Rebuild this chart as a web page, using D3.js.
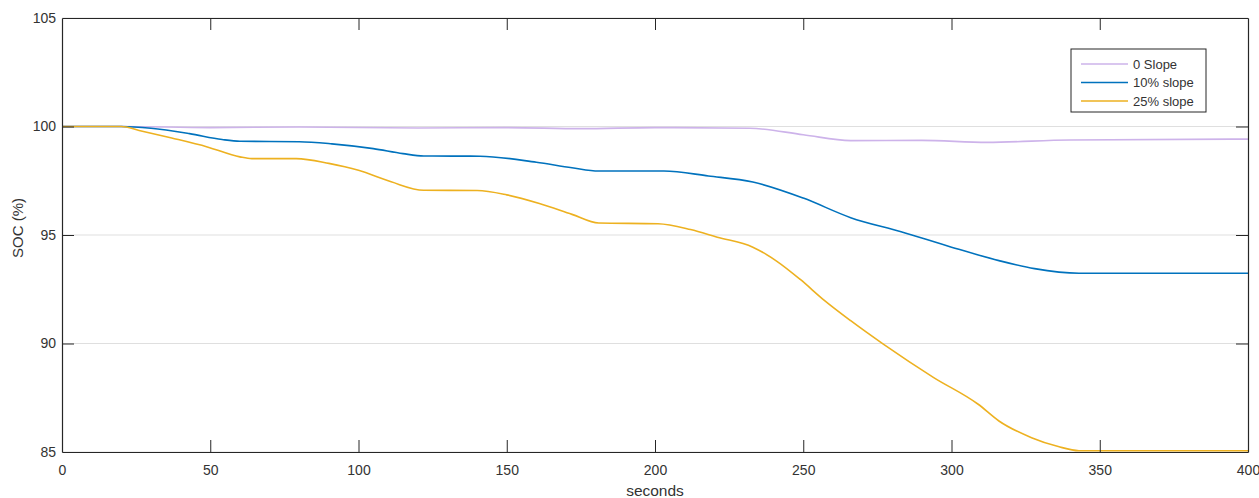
<!DOCTYPE html>
<html>
<head>
<meta charset="utf-8">
<script src="https://cdn.jsdelivr.net/npm/d3@7"></script>
<style>
  html, body { margin: 0; padding: 0; background: #fff; }
  text { font-family: "Liberation Sans", Arial, Helvetica, sans-serif; }
</style>
</head>
<body>
<svg id="chart" width="1259" height="498"></svg>
<script>
// ---- Data ----
const seriesNames = ["0 Slope", "10% slope", "25% slope"];
const seriesColors = ["#cdb3ea", "#0072bd", "#edb120"];

const slope0 = [
  [0, 100], [20, 100], [50, 99.95], [80, 99.98], [120, 99.93], [150, 99.95],
  [175, 99.9], [200, 99.95], [232, 99.92], [250, 99.62], [266, 99.35],
  [290, 99.36], [312, 99.27], [340, 99.38], [400, 99.42]
];
const slope10 = [
  [0, 100], [20, 100], [30, 99.92], [43, 99.67], [54, 99.4], [60, 99.32],
  [80, 99.3], [91, 99.2], [105, 98.98], [115, 98.75], [122, 98.64],
  [141, 98.63], [160, 98.35], [172, 98.1], [181, 97.95], [203, 97.95],
  [218, 97.72], [233, 97.44], [250, 96.7], [266, 95.8], [283, 95.15],
  [300, 94.44], [316, 93.82], [328, 93.45], [343, 93.24], [400, 93.24]
];
const slope25 = [
  [0, 100], [20, 100], [26, 99.82], [37, 99.47], [49, 99.06], [60, 98.6],
  [64, 98.52], [79, 98.52], [90, 98.3], [100, 97.98], [111, 97.45],
  [122, 97.06], [140, 97.05], [150, 96.85], [161, 96.45], [172, 95.95],
  [181, 95.55], [201, 95.52], [212, 95.25], [221, 94.9], [233, 94.44],
  [241, 93.8], [249, 92.95], [257, 92.0], [266, 91.05], [277, 89.97],
  [294, 88.43], [309, 87.2], [316, 86.43], [327, 85.66], [336, 85.25],
  [343, 85.06], [400, 85.06]
];
const allSeries = [slope0, slope10, slope25];

const xTicks = [0, 50, 100, 150, 200, 250, 300, 350, 400];
const yTicks = [85, 90, 95, 100, 105];
const xLabel = "seconds";
const yLabel = "SOC (%)";

// ---- Layout ----
const svg = d3.select("#chart");
const plot = { left: 62, right: 1248, top: 18, bottom: 452 };

const x = d3.scaleLinear().domain([0, 400]).range([plot.left, plot.right]);
const y = d3.scaleLinear().domain([85, 105]).range([plot.bottom, plot.top]);

const axisColor = "#262626";
const tickLen = 12;

// grid (horizontal only)
svg.append("g")
  .selectAll("line")
  .data(yTicks)
  .join("line")
  .attr("x1", plot.left).attr("x2", plot.right)
  .attr("y1", d => y(d)).attr("y2", d => y(d))
  .attr("stroke", "#dfdfdf").attr("stroke-width", 1);

// lines
const line = d3.line()
  .x(d => x(d[0]))
  .y(d => y(d[1]))
  .curve(d3.curveMonotoneX);

svg.append("g")
  .selectAll("path")
  .data(allSeries)
  .join("path")
  .attr("d", d => line(d))
  .attr("fill", "none")
  .attr("stroke", (d, i) => seriesColors[i])
  .attr("stroke-width", 1.6)
  .attr("stroke-linejoin", "round");

// axes (inward ticks, box on)
const fontSize = 14;
const gx = svg.append("g")
  .attr("transform", `translate(0,${plot.bottom})`)
  .call(d3.axisBottom(x).tickValues(xTicks).tickSizeInner(-tickLen).tickSizeOuter(0).tickPadding(20));
const gy = svg.append("g")
  .attr("transform", `translate(${plot.left},0)`)
  .call(d3.axisLeft(y).tickValues(yTicks).tickSizeInner(-tickLen).tickSizeOuter(0).tickPadding(18));
const gxTop = svg.append("g")
  .attr("transform", `translate(0,${plot.top})`)
  .call(d3.axisTop(x).tickValues(xTicks).tickSizeInner(-tickLen).tickSizeOuter(0).tickFormat(""));
const gyRight = svg.append("g")
  .attr("transform", `translate(${plot.right},0)`)
  .call(d3.axisRight(y).tickValues(yTicks).tickSizeInner(-tickLen).tickSizeOuter(0).tickFormat(""));

[gx, gy, gxTop, gyRight].forEach(g => {
  g.select(".domain").attr("stroke", axisColor).attr("stroke-width", 1.2);
  g.selectAll(".tick line").attr("stroke", axisColor).attr("stroke-width", 1);
  g.selectAll(".tick text")
    .attr("fill", "#333")
    .style("font-size", fontSize + "px")
    .style("font-family", '"Liberation Sans", Arial, sans-serif');
});
gx.selectAll(".tick text").attr("dy", "0.2em");
gy.selectAll(".tick text").attr("dx", "12px");
// remove 105 tick mark lines overlapping box top and 85 bottom
gy.selectAll(".tick").filter(d => d === 105 || d === 85).select("line").remove();
gyRight.selectAll(".tick").filter(d => d === 105 || d === 85).select("line").remove();
gx.selectAll(".tick").filter(d => d === 0 || d === 400).select("line").remove();
gxTop.selectAll(".tick").filter(d => d === 0 || d === 400).select("line").remove();

// axis labels
svg.append("text")
  .attr("x", (plot.left + plot.right) / 2)
  .attr("y", 496)
  .attr("text-anchor", "middle")
  .attr("fill", "#333")
  .style("font-size", "15.5px")
  .text(xLabel);

svg.append("text")
  .attr("transform", `translate(23,${(plot.top + plot.bottom) / 2 - 7}) rotate(-90)`)
  .attr("text-anchor", "middle")
  .attr("fill", "#333")
  .style("font-size", "15px")
  .text(yLabel);

// legend
const lg = svg.append("g");
const lgBox = { x: 1071, y: 49, w: 135, h: 63 };
lg.append("rect")
  .attr("x", lgBox.x).attr("y", lgBox.y)
  .attr("width", lgBox.w).attr("height", lgBox.h)
  .attr("fill", "#fff").attr("stroke", axisColor).attr("stroke-width", 1);
const rowY = [64, 82.5, 101];
seriesNames.forEach((name, i) => {
  lg.append("line")
    .attr("x1", 1081).attr("x2", 1128)
    .attr("y1", rowY[i]).attr("y2", rowY[i])
    .attr("stroke", seriesColors[i]).attr("stroke-width", 1.6);
  lg.append("text")
    .attr("x", 1133).attr("y", rowY[i])
    .attr("dy", "0.35em")
    .attr("fill", "#333")
    .style("font-size", "13px")
    .text(name);
});
</script>
</body>
</html>
